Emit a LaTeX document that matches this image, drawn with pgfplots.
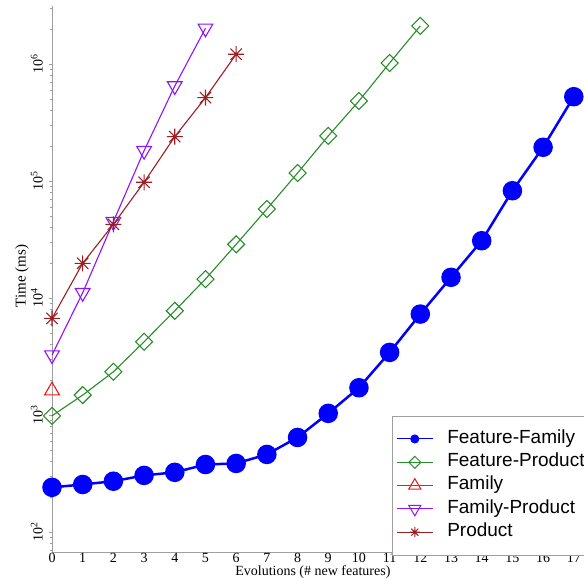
\documentclass[border=0pt]{standalone}
\usepackage{fontspec}
\setmainfont{Liberation Serif}
\newfontfamily\legendfont{Liberation Sans}
\usepackage{pgfplots}
\pgfplotsset{compat=1.18}
\definecolor{cblue}{RGB}{0,0,255}
\definecolor{cgreen}{RGB}{40,140,40}
\definecolor{cred}{RGB}{250,20,20}
\definecolor{cpurple}{RGB}{140,20,250}
\definecolor{cbrown}{RGB}{155,30,35}
\pgfdeclareplotmark{star8}{%
  \pgfpathmoveto{\pgfqpoint{0pt}{\pgfplotmarksize}}\pgfpathlineto{\pgfqpoint{0pt}{-\pgfplotmarksize}}%
  \pgfpathmoveto{\pgfqpoint{\pgfplotmarksize}{0pt}}\pgfpathlineto{\pgfqpoint{-\pgfplotmarksize}{0pt}}%
  \pgfpathmoveto{\pgfqpoint{0.707\pgfplotmarksize}{0.707\pgfplotmarksize}}\pgfpathlineto{\pgfqpoint{-0.707\pgfplotmarksize}{-0.707\pgfplotmarksize}}%
  \pgfpathmoveto{\pgfqpoint{-0.707\pgfplotmarksize}{0.707\pgfplotmarksize}}\pgfpathlineto{\pgfqpoint{0.707\pgfplotmarksize}{-0.707\pgfplotmarksize}}%
  \pgfusepathqstroke}
\pgfdeclareplotmark{sqdiamond}{%
  \pgfpathmoveto{\pgfqpoint{0pt}{\pgfplotmarksize}}%
  \pgfpathlineto{\pgfqpoint{\pgfplotmarksize}{0pt}}%
  \pgfpathlineto{\pgfqpoint{0pt}{-\pgfplotmarksize}}%
  \pgfpathlineto{\pgfqpoint{-\pgfplotmarksize}{0pt}}%
  \pgfpathclose
  \pgfusepathqstroke}
\begin{document}
\begin{tikzpicture}
\begin{axis}[
  at={(52pt,26pt)}, anchor=south west,
  width=531pt, height=546pt, scale only axis,
  xmin=0, xmax=17.3, ymode=log, ymin=67.5, ymax=3.15e6,
  axis lines=left, axis line style={-, draw=gray!75, line width=0.8pt},
  xtick={0,...,17}, xtick style={draw=none},
  ytick={100,1000,10000,100000,1000000},
  yticklabels={10\textsuperscript{2},10\textsuperscript{3},10\textsuperscript{4},10\textsuperscript{5},10\textsuperscript{6}},
  minor ytick={70,80,90,200,300,400,500,600,700,800,900,2000,3000,4000,5000,6000,7000,8000,9000,20000,30000,40000,50000,60000,70000,80000,90000,200000,300000,400000,500000,600000,700000,800000,900000,2000000,3000000},
  tick align=outside, major tick length=3pt, minor tick length=2.5pt,
  ytick style={draw=gray!75, line width=0.6pt},
  /pgf/number format/assume math mode=true,
  tick label style={font=\fontsize{14}{16}\selectfont},
  xticklabel style={anchor=north, inner sep=0pt, yshift=2pt},
  yticklabel style={rotate=90, anchor=south, inner sep=0pt, yshift=6pt},
  xlabel={Evolutions (\# new features)},
  ylabel={Time (ms)},
  xlabel style={font=\fontsize{14}{16}\selectfont, at={(rel axis cs:0.4913,0)}, anchor=north, yshift=-13pt, inner sep=0pt},
  ylabel style={font=\fontsize{15}{17}\selectfont, at={(rel axis cs:0,0.5)}, anchor=south, yshift=23pt, xshift=3pt, inner sep=0pt},
  legend style={at={(rel axis cs:0.6403,0.2527)}, anchor=north west, draw=gray!75, line width=0.6pt,
    font=\legendfont\fontsize{19}{22}\selectfont, inner xsep=4pt, inner ysep=11.5pt, yshift=-1.5pt,
    nodes={text height=14pt, text depth=5.3pt, inner sep=2pt}, cells={anchor=west}, column sep=12pt},
  legend image code/.code={\draw[mark repeat=2,mark phase=2,#1] plot coordinates {(0pt,0pt)(18pt,0pt)(36pt,0pt)};},
  clip=false
]
% Feature-Product
\addplot[cgreen, line width=1.1pt, mark=sqdiamond, mark size=8.5pt, mark options={solid}, forget plot] coordinates {
(0,986) (1,1483) (2,2345) (3,4236) (4,7800) (5,14560) (6,28840) (7,57800) (8,117500) (9,243800) (10,485000) (11,1026000) (12,2130000)};
% Family
\addplot[cred, line width=1.1pt, mark=triangle, mark size=8.5pt, mark options={solid}, forget plot] coordinates {(0,1620)};
% Family-Product
\addplot[cpurple, line width=1.1pt, mark=triangle, mark size=8.5pt, mark options={solid, rotate=180}, forget plot] coordinates {
(0,3260) (1,11120) (2,45060) (3,182400) (4,652000) (5,2030000)};
% Product
\addplot[cbrown, line width=1.1pt, mark=star8, mark size=8pt, mark options={solid}, forget plot] coordinates {
(0,6720) (1,19860) (2,42800) (3,97900) (4,240400) (5,518000) (6,1219000)};
% Feature-Family
\addplot[cblue, line width=2.5pt, mark=*, mark size=8.5pt, mark options={solid}, forget plot] coordinates {
(0,241) (1,255) (2,272) (3,305) (4,324) (5,378) (6,386) (7,461) (8,644) (9,1035) (10,1713) (11,3436) (12,7310) (13,15070) (14,30980) (15,82900) (16,195000) (17,528000)};

\addlegendimage{cblue, line width=1pt, mark=*, mark size=4pt}
\addlegendentry{Feature-Family}
\addlegendimage{cgreen, line width=1pt, mark=sqdiamond, mark size=6pt}
\addlegendentry{Feature-Product}
\addlegendimage{cred, line width=1pt, mark=triangle, mark size=7pt}
\addlegendentry{Family}
\addlegendimage{cpurple, line width=1pt, mark=triangle, mark size=7pt, mark options={rotate=180}}
\addlegendentry{Family-Product}
\addlegendimage{cbrown, line width=1pt, mark=star8, mark size=5pt}
\addlegendentry{Product}
\end{axis}
\pgfresetboundingbox
\useasboundingbox (0,0) rectangle (584pt,578pt);
\end{tikzpicture}
\end{document}
